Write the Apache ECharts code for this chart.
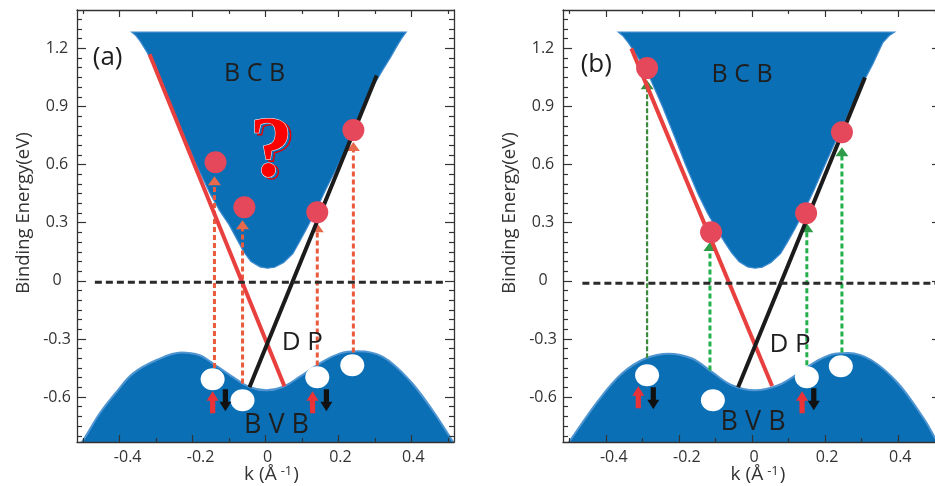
<!DOCTYPE html>
<html><head><meta charset="utf-8">
<script src="https://cdn.jsdelivr.net/npm/echarts@6/dist/echarts.min.js"></script>
<style>html,body{margin:0;padding:0;background:#fff}#c{width:935px;height:486px}</style>
</head><body><div id="c"></div>
<script>
// ---------- axes ----------
const kRange = [-0.517, 0.517];
const eRange = [-0.832, 1.398];
const kLabelTicks = [-0.4, -0.2, 0, 0.2, 0.4];
const kMinorTicks = [-0.5, -0.3, -0.1, 0.1, 0.3, 0.5];
const eLabelTicks = [-0.6, -0.3, 0, 0.3, 0.6, 0.9, 1.2];
const eMinorTicks = [-0.8, -0.75, -0.7, -0.65, -0.55, -0.5, -0.45, -0.4, -0.35, -0.25, -0.2, -0.15, -0.1, -0.05,
  0.05, 0.1, 0.15, 0.2, 0.25, 0.35, 0.4, 0.45, 0.5, 0.55, 0.65, 0.7, 0.75, 0.8, 0.85, 0.95, 1.0, 1.05, 1.1, 1.15, 1.25, 1.3, 1.35];
const yName = 'Binding Energy(eV)';

// ---------- panel (a) ----------
const bcbA = [[-0.367,1.284],[-0.355,1.265],[-0.343,1.235],[-0.325,1.18],[-0.29,1.05],[-0.258,0.90],[-0.224,0.75],[-0.19,0.60],
  [-0.152,0.45],[-0.125,0.36],[-0.10,0.29],[-0.077,0.21],[-0.06,0.15],[-0.04,0.10],[-0.015,0.072],[0.005,0.065],[0.025,0.07],
  [0.05,0.095],[0.075,0.14],[0.093,0.20],[0.113,0.27],[0.135,0.35],[0.165,0.47],[0.2,0.60],[0.236,0.75],[0.27,0.90],[0.3,1.02],
  [0.322,1.09],[0.342,1.15],[0.36,1.21],[0.373,1.25],[0.386,1.284]];
const bvbA = [[-0.517,-0.86],[-0.5,-0.823],[-0.455,-0.685],[-0.409,-0.574],[-0.364,-0.479],[-0.3,-0.41],[-0.231,-0.37],[-0.181,-0.384],
  [-0.144,-0.427],[-0.09,-0.496],[-0.044,-0.548],[0.002,-0.565],[0.047,-0.548],[0.093,-0.496],[0.148,-0.427],[0.203,-0.376],
  [0.253,-0.364],[0.322,-0.393],[0.395,-0.513],[0.458,-0.668],[0.509,-0.815],[0.517,-0.84]];
const redLineA = [[-0.318,1.17],[0.052,-0.544]];
const blackLineA = [[-0.044,-0.549],[0.305,1.06]];
const zeroLineA = [[-0.468,-0.007],[0.49,-0.007]];
const dotsA = [[-0.137,0.612],[-0.058,0.38],[0.142,0.354],[0.241,0.778]];
const holesA = [[-0.145,-0.508],[-0.063,-0.616],[0.142,-0.498],[0.238,-0.436]];
const arrowsA = [[-0.14,-0.45,0.54],[-0.063,-0.53,0.313],[0.142,-0.437,0.297],[0.241,-0.37,0.716]]; // k, from E, to E
const spinUpA = [[-0.145,-0.627],[0.129,-0.627]];
const spinDownA = [[-0.11,-0.617],[0.167,-0.617]];
const labelsA = [[-0.433,1.15,'(a)'],[-0.03,1.067,'B C B'],[0.101,-0.317,'D P'],[0.03,-0.746,'B V B']];
const questionA = [[0.016,0.655,'?']];

// ---------- panel (b) ----------
const bcbB = [[-0.366,1.284],[-0.352,1.262],[-0.338,1.228],[-0.318,1.17],[-0.287,1.08],[-0.245,0.90],[-0.213,0.75],[-0.182,0.60],
  [-0.148,0.45],[-0.122,0.35],[-0.098,0.27],[-0.075,0.20],[-0.056,0.145],[-0.035,0.098],[-0.012,0.072],[0.008,0.065],[0.028,0.07],
  [0.052,0.095],[0.078,0.14],[0.097,0.20],[0.118,0.27],[0.14,0.35],[0.17,0.47],[0.2,0.60],[0.236,0.75],[0.268,0.88],[0.303,1.02],
  [0.331,1.12],[0.358,1.23],[0.375,1.265],[0.39,1.284]];
const bvbB = [[-0.517,-0.88],[-0.497,-0.823],[-0.42,-0.617],[-0.356,-0.479],[-0.292,-0.401],[-0.228,-0.376],[-0.164,-0.401],
  [-0.11,-0.47],[-0.055,-0.539],[0.008,-0.565],[0.072,-0.539],[0.126,-0.479],[0.181,-0.41],[0.227,-0.376],[0.264,-0.372],
  [0.327,-0.41],[0.4,-0.53],[0.473,-0.72],[0.5,-0.81],[0.517,-0.86]];
const redLineB = [[-0.33,1.20],[0.055,-0.543]];
const blackLineB = [[-0.038,-0.549],[0.309,1.05]];
const zeroLineB = [[-0.464,-0.012],[0.52,-0.012]];
const dotsB = [[-0.287,1.098],[-0.112,0.251],[0.148,0.349],[0.246,0.767]];
const holesB = [[-0.287,-0.487],[-0.107,-0.616],[0.15,-0.498],[0.243,-0.441]];
const darkGreenArrowsB = [[-0.287,-0.40,1.036]];
const greenArrowsB = [[-0.115,-0.463,0.20],[0.15,-0.436,0.297],[0.246,-0.37,0.69]];
const spinUpB = [[-0.311,-0.601],[0.137,-0.627]];
const spinDownB = [[-0.27,-0.606],[0.169,-0.611]];
const labelsB = [[-0.426,1.114,'(b)'],[-0.027,1.062,'B C B'],[0.104,-0.327,'D P'],[0.003,-0.73,'B V B']];

// ---------- styling / rendering ----------
const FONT = '"Open Sans", "DejaVu Sans", sans-serif';
const AX = '#333';
const BLUE = '#0b6fb5';
const labelFont = {'(a)':26, '(b)':26, 'B C B':25, 'D P':26, 'B V B':27};

function xAx(g, pos, ticks, len, line, labels) {
  const a = {type:'value', gridIndex:g, position:pos, min:kRange[0], max:kRange[1], z:20,
    axisLine:{show:line, onZero:false, lineStyle:{color:AX, width:1.3}},
    axisTick:{show:true, inside:true, length:len, customValues:ticks, lineStyle:{color:AX, width:1.2}},
    axisLabel:{show:false}, splitLine:{show:false}};
  if (labels) {
    a.axisLabel = {show:true, customValues:ticks, margin:7, color:'#333', fontFamily:FONT, fontSize:16,
      formatter:v => v < 0 ? '{n|' + v.toFixed(1) + '}' : '{p|' + (v === 0 ? '0' : v.toFixed(1)) + '}',
      rich:{n:{padding:[0,0,0,16], fontFamily:FONT, fontSize:16, color:'#333'}, p:{padding:[0,0,0,4], fontFamily:FONT, fontSize:16, color:'#333'}}};
    a.name = 'k (Å{s|-1})';
    a.nameLocation = 'middle';
    a.nameGap = 23;
    a.nameMoveOverlap = false;
    a.nameTextStyle = {fontFamily:FONT, fontSize:19, color:'#333', padding:[0,0,0,12],
      rich:{s:{fontFamily:FONT, fontSize:13, verticalAlign:'top', color:'#333', padding:[0,1,6,4]}}};
  }
  return a;
}
function yAx(g, pos, ticks, len, line, labels) {
  const a = {type:'value', gridIndex:g, position:pos, min:eRange[0], max:eRange[1], z:20,
    axisLine:{show:line, onZero:false, lineStyle:{color:AX, width:1.3}},
    axisTick:{show:true, inside:true, length:len, customValues:ticks, lineStyle:{color:AX, width:1.2}},
    axisLabel:{show:false}, splitLine:{show:false}};
  if (labels) {
    a.axisLabel = {show:true, customValues:ticks, margin:20, align:'center', color:'#333', fontFamily:FONT, fontSize:16,
      formatter:v => v === 0 ? '0' : v.toFixed(1)};
    a.name = yName;
    a.nameLocation = 'middle';
    a.nameRotate = 90;
    a.nameGap = 44;
    a.nameMoveOverlap = false;
    a.nameTextStyle = {fontFamily:FONT, fontSize:18.5, color:'#333', padding:[0,0,0,26]};
  }
  return a;
}

function polySeries(points, g, fill, stroke, z) {
  return {type:'custom', xAxisIndex:g*4, yAxisIndex:g*4, z, silent:true, clip:true,
    data:[points[0]],
    renderItem:(p, api) => ({type:'polygon', shape:{points:points.map(q => api.coord(q))},
      style:{fill, stroke, lineWidth:1.2}})};
}
function areaSeries(points, g, z) {
  return {type:'line', xAxisIndex:g*4, yAxisIndex:g*4, z, silent:true, data:points, showSymbol:false, smooth:0.35,
    lineStyle:{color:'#4f95d2', width:2}, areaStyle:{color:BLUE, opacity:1, origin:'start'}};
}
function lineSeries(points, g, color, width, type, z) {
  return {type:'line', xAxisIndex:g*4, yAxisIndex:g*4, z, silent:true, data:points, showSymbol:false,
    lineStyle:{color, width, type}};
}
function dotSeries(points, g, color, size, z) {
  return {type:'scatter', xAxisIndex:g*4, yAxisIndex:g*4, z, silent:true, data:points, symbol:'circle', symbolSize:size,
    itemStyle:{color, opacity:1}};
}
function arrowSeries(list, g, color, headColor, width, dash, z) {
  return {type:'custom', xAxisIndex:g*4, yAxisIndex:g*4, z, silent:true, clip:true,
    encode:{x:0, y:[1,2]}, data:list,
    renderItem:(p, api) => {
      const k = api.value(0), p0 = api.coord([k, api.value(1)]), p1 = api.coord([k, api.value(2)]);
      const hh = 9, hw = 6.5;
      return {type:'group', children:[
        {type:'line', shape:{x1:p0[0], y1:p0[1], x2:p1[0], y2:p1[1] + hh - 1}, style:{stroke:color, lineWidth:width, lineDash:dash}},
        {type:'polygon', shape:{points:[[p1[0], p1[1]], [p1[0] - hw, p1[1] + hh], [p1[0] + hw, p1[1] + hh]]}, style:{fill:headColor}}
      ]};
    }};
}
function spinSeries(list, g, up, color, z) {
  return {type:'custom', xAxisIndex:g*4, yAxisIndex:g*4, z, silent:true, data:list,
    renderItem:(p, api) => {
      const c = api.coord([api.value(0), api.value(1)]);
      const s = up ? 1 : -1, x = c[0], y = c[1];
      const pts = [[x, y - 11*s], [x + 6, y - 1.5*s], [x + 2.6, y - 1.5*s], [x + 2.6, y + 11*s], [x - 2.6, y + 11*s], [x - 2.6, y - 1.5*s], [x - 6, y - 1.5*s]];
      return {type:'polygon', shape:{points:pts}, style:{fill:color}};
    }};
}
function textSeries(list, g, z) {
  return {type:'custom', xAxisIndex:g*4, yAxisIndex:g*4, z, silent:true, data:list.map(d => [d[0], d[1]]),
    renderItem:(p, api) => {
      const c = api.coord([api.value(0), api.value(1)]);
      const t = list[p.dataIndex][2];
      return {type:'text', x:c[0], y:c[1], style:{text:t, fill:'#1e1e1e', font:labelFont[t] + 'px ' + FONT,
        textAlign:'center', textVerticalAlign:'middle'}};
    }};
}
function questionSeries(list, g, z) {
  return {type:'custom', xAxisIndex:g*4, yAxisIndex:g*4, z, silent:true, data:list.map(d => [d[0], d[1]]),
    renderItem:(p, api) => {
      const c = api.coord([api.value(0), api.value(1)]);
      const t = list[p.dataIndex][2];
      const f = 'bold 86px "Liberation Serif", "DejaVu Serif", serif';
      return {type:'group', children:[
        {type:'text', x:c[0] + 3, y:c[1] + 2, style:{text:t, fill:'rgba(0,0,0,0)', stroke:'#e60000', lineWidth:1.4, font:f, textAlign:'center', textVerticalAlign:'middle'}},
        {type:'text', x:c[0], y:c[1], style:{text:t, fill:'#ff0000', stroke:'#ffffff', lineWidth:1, font:f, textAlign:'center', textVerticalAlign:'middle'}}
      ]};
    }};
}

function panelSeries(g, d) {
  const s = [
    polySeries(d.bcb, g, BLUE, '#3f8bd0', 1),
    areaSeries(d.bvb, g, 2),
  ];
  d.arrows.forEach(a => s.push(arrowSeries(a.list, g, a.color, a.head, a.width, a.dash, 3)));
  s.push(lineSeries(d.red, g, '#e8403f', 4, 'solid', 4));
  s.push(lineSeries(d.black, g, '#1b1b1b', 4, 'solid', 4));
  s.push(lineSeries(d.zero, g, '#2a2a2a', 3, [7, 4], 5));
  s.push(dotSeries(d.dots, g, '#e5485a', 22, 6));
  s.push(dotSeries(d.holes, g, '#ffffff', [24, 22], 6));
  s.push(spinSeries(d.up, g, true, '#ea3338', 7));
  s.push(spinSeries(d.down, g, false, '#111111', 7));
  s.push(textSeries(d.labels, g, 8));
  if (d.question) s.push(questionSeries(d.question, g, 8));
  return s;
}

const series = [].concat(
  panelSeries(0, {bcb:bcbA, bvb:bvbA, red:redLineA, black:blackLineA, zero:zeroLineA, dots:dotsA, holes:holesA,
    arrows:[{list:arrowsA, color:'#ea5a3c', head:'#e86a4c', width:3, dash:[5, 3]}],
    up:spinUpA, down:spinDownA, labels:labelsA, question:questionA}),
  panelSeries(1, {bcb:bcbB, bvb:bvbB, red:redLineB, black:blackLineB, zero:zeroLineB, dots:dotsB, holes:holesB,
    arrows:[{list:darkGreenArrowsB, color:'#3d8c3d', head:'#3d8c3d', width:2.2, dash:[5, 2]},
            {list:greenArrowsB, color:'#21b04a', head:'#2f9a48', width:3, dash:[5, 3]}],
    up:spinUpB, down:spinDownB, labels:labelsB})
);

const xAxes = [], yAxes = [];
[0, 1].forEach(g => {
  xAxes.push(xAx(g, 'bottom', kLabelTicks, 7, true, true));
  xAxes.push(xAx(g, 'bottom', kMinorTicks, 4, false, false));
  xAxes.push(xAx(g, 'top', kLabelTicks, 7, true, false));
  xAxes.push(xAx(g, 'top', kMinorTicks, 4, false, false));
  yAxes.push(yAx(g, 'left', eLabelTicks, 9, true, true));
  yAxes.push(yAx(g, 'left', eMinorTicks, 5, false, false));
  yAxes.push(yAx(g, 'right', eLabelTicks, 9, true, false));
  yAxes.push(yAx(g, 'right', eMinorTicks, 5, false, false));
});

const chart = echarts.init(document.getElementById('c'), null, {renderer:'canvas'});
chart.setOption({
  animation:false,
  backgroundColor:'#ffffff',
  grid:[{left:77, top:10, width:377, height:432, containLabel:false, outerBoundsMode:'none'},
        {left:563, top:10, width:378, height:432, containLabel:false, outerBoundsMode:'none'}],
  xAxis:xAxes, yAxis:yAxes, series
});
</script></body></html>
